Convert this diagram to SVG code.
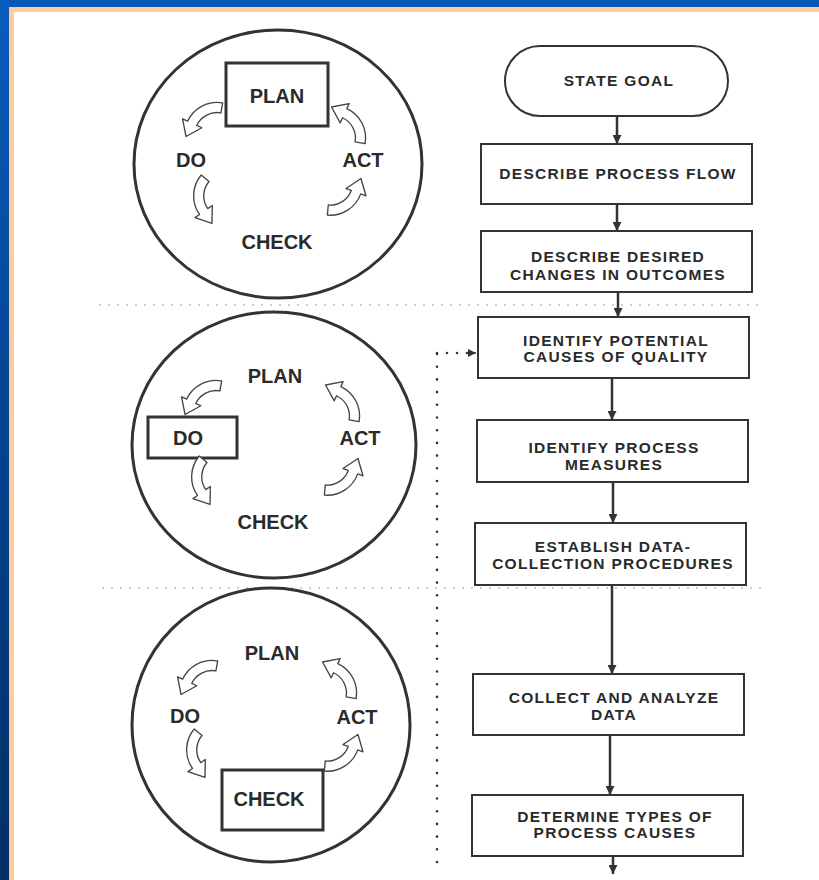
<svg xmlns="http://www.w3.org/2000/svg" width="819" height="880" viewBox="0 0 819 880">
<defs>
<linearGradient id="leftBlue" x1="0" y1="0" x2="0" y2="1">
<stop offset="0" stop-color="#0a5cbc"/>
<stop offset="0.5" stop-color="#02438f"/>
<stop offset="1" stop-color="#002f66"/>
</linearGradient>
<path id="ca" d="M23,4 A29,29 0 0 0 -12,-0.6 L-14.5,-4.9 L-21,9.8 L-5,11.5 L-7.5,7.2 A20,20 0 0 1 16.6,10.4 Z"/>
<marker id="ah" viewBox="0 0 8 8" refX="8" refY="4" markerWidth="9" markerHeight="9" markerUnits="userSpaceOnUse" orient="auto">
<path d="M0,0 L8,4 L0,8 Z" fill="#333"/>
</marker>
<marker id="ahs" viewBox="0 0 8 8" refX="8" refY="4" markerWidth="8" markerHeight="8" markerUnits="userSpaceOnUse" orient="auto">
<path d="M0,0 L8,4 L0,8 Z" fill="#333"/>
</marker>
</defs>
<style>
.ring{fill:none;stroke:#333;stroke-width:3}
.hl{fill:none;stroke:#333;stroke-width:3}
.pd{font-family:"Liberation Sans",Arial,sans-serif;font-weight:bold;font-size:20px;fill:#2a2a2a;text-anchor:middle}
.cyc{fill:#fff;stroke:#444;stroke-width:1.2;stroke-linejoin:round}
.box{fill:#fff;stroke:#333;stroke-width:2}
.ft{font-family:"Liberation Sans",Arial,sans-serif;font-weight:bold;font-size:15.5px;letter-spacing:1.3px;fill:#2a2a2a;text-anchor:middle}
.flow{fill:none;stroke:#333;stroke-width:2.5}
.sep{fill:none;stroke:#8a8a8a;stroke-width:1.6;stroke-dasharray:0 9;stroke-linecap:round}
.fb{fill:none;stroke:#333;stroke-width:2.6;stroke-linecap:round}
</style>

<rect x="0" y="0" width="819" height="880" fill="#ffffff"/>
<rect x="0" y="0" width="819" height="7" fill="#0558b8"/>
<rect x="9" y="7" width="810" height="5" fill="#ffcc99"/>
<rect x="0" y="0" width="9" height="880" fill="url(#leftBlue)"/>
<rect x="9" y="7" width="5" height="873" fill="#ffcc99"/>

<g id="separators">
<path class="sep" d="M100,305 H766"/>
<path class="sep" d="M103,588 H768"/>
</g>

<g id="cycle-plan">
<ellipse class="ring" cx="278" cy="164" rx="144" ry="134"/>
<rect class="hl" x="226" y="63" width="102" height="63"/>
<text class="pd" x="277" y="103">PLAN</text>
<text class="pd" x="191" y="167">DO</text>
<text class="pd" x="363" y="167">ACT</text>
<text class="pd" x="277" y="249">CHECK</text>
<use href="#ca" class="cyc" transform="translate(199,114) rotate(-35) scale(1.12)"/>
<use href="#ca" class="cyc" transform="translate(199,201) rotate(-95) scale(1.12)"/>
<use href="#ca" class="cyc" transform="translate(350,202) rotate(140) scale(1.12)"/>
<use href="#ca" class="cyc" transform="translate(354,120) rotate(55) scale(1.12)"/>
</g>

<g id="cycle-do">
<ellipse class="ring" cx="274" cy="445" rx="142" ry="133"/>
<rect class="hl" x="148" y="417" width="89" height="41"/>
<text class="pd" x="275" y="383">PLAN</text>
<text class="pd" x="188" y="445">DO</text>
<text class="pd" x="360" y="445">ACT</text>
<text class="pd" x="273" y="529">CHECK</text>
<use href="#ca" class="cyc" transform="translate(198,392) rotate(-35) scale(1.12)"/>
<use href="#ca" class="cyc" transform="translate(197,482) rotate(-95) scale(1.12)"/>
<use href="#ca" class="cyc" transform="translate(347,482) rotate(140) scale(1.12)"/>
<use href="#ca" class="cyc" transform="translate(348,398) rotate(55) scale(1.12)"/>
</g>

<g id="cycle-check">
<ellipse class="ring" cx="271" cy="725" rx="139" ry="137"/>
<rect class="hl" x="222" y="770" width="101" height="60"/>
<text class="pd" x="272" y="660">PLAN</text>
<text class="pd" x="185" y="723">DO</text>
<text class="pd" x="357" y="724">ACT</text>
<text class="pd" x="269" y="806">CHECK</text>
<use href="#ca" class="cyc" transform="translate(194,672) rotate(-35) scale(1.12)"/>
<use href="#ca" class="cyc" transform="translate(192,755) rotate(-95) scale(1.12)"/>
<use href="#ca" class="cyc" transform="translate(347,758) rotate(140) scale(1.12)"/>
<use href="#ca" class="cyc" transform="translate(345,675) rotate(55) scale(1.12)"/>
</g>

<g id="connectors">
<path class="flow" d="M617,117 V144" marker-end="url(#ah)"/>
<path class="flow" d="M617,204 V231" marker-end="url(#ah)"/>
<path class="flow" d="M618,292 V317" marker-end="url(#ah)"/>
<path class="flow" d="M612,378 V420" marker-end="url(#ah)"/>
<path class="flow" d="M613,482 V523" marker-end="url(#ah)"/>
<path class="flow" d="M612,585 V674" marker-end="url(#ah)"/>
<path class="flow" d="M610,735 V795" marker-end="url(#ah)"/>
<path class="flow" d="M613,856 V874" marker-end="url(#ah)"/>
<path class="fb" d="M437,862 V353" stroke-dasharray="0 12.7"/>
<path class="fb" d="M437,353 H468" stroke-dasharray="0 10"/>
<path d="M468,353 H476" fill="none" stroke="#333" stroke-width="1.5" marker-end="url(#ahs)"/>
</g>

<g id="state-goal">
<rect class="box" x="505" y="46" width="223" height="70" rx="35" ry="35"/>
<text class="ft" x="619" y="86">STATE GOAL</text>
</g>
<g id="describe-flow">
<rect class="box" x="481" y="144" width="271" height="60"/>
<text class="ft" x="618" y="179">DESCRIBE PROCESS FLOW</text>
</g>
<g id="describe-changes">
<rect class="box" x="481" y="231" width="271" height="61"/>
<text class="ft" x="618" y="262">DESCRIBE DESIRED</text>
<text class="ft" x="618" y="280">CHANGES IN OUTCOMES</text>
</g>
<g id="identify-causes">
<rect class="box" x="478" y="317" width="271" height="61"/>
<text class="ft" x="616" y="346">IDENTIFY POTENTIAL</text>
<text class="ft" x="616" y="362">CAUSES OF QUALITY</text>
</g>
<g id="identify-measures">
<rect class="box" x="477" y="420" width="271" height="62"/>
<text class="ft" x="614" y="453">IDENTIFY PROCESS</text>
<text class="ft" x="614" y="470">MEASURES</text>
</g>
<g id="establish-procedures">
<rect class="box" x="475" y="523" width="271" height="62"/>
<text class="ft" x="613" y="552">ESTABLISH DATA-</text>
<text class="ft" x="613" y="569">COLLECTION PROCEDURES</text>
</g>
<g id="collect-analyze">
<rect class="box" x="473" y="674" width="271" height="61"/>
<text class="ft" x="614" y="703">COLLECT AND ANALYZE</text>
<text class="ft" x="614" y="720">DATA</text>
</g>
<g id="determine-types">
<rect class="box" x="472" y="795" width="271" height="61"/>
<text class="ft" x="615" y="822">DETERMINE TYPES OF</text>
<text class="ft" x="615" y="838">PROCESS CAUSES</text>
</g>
</svg>
